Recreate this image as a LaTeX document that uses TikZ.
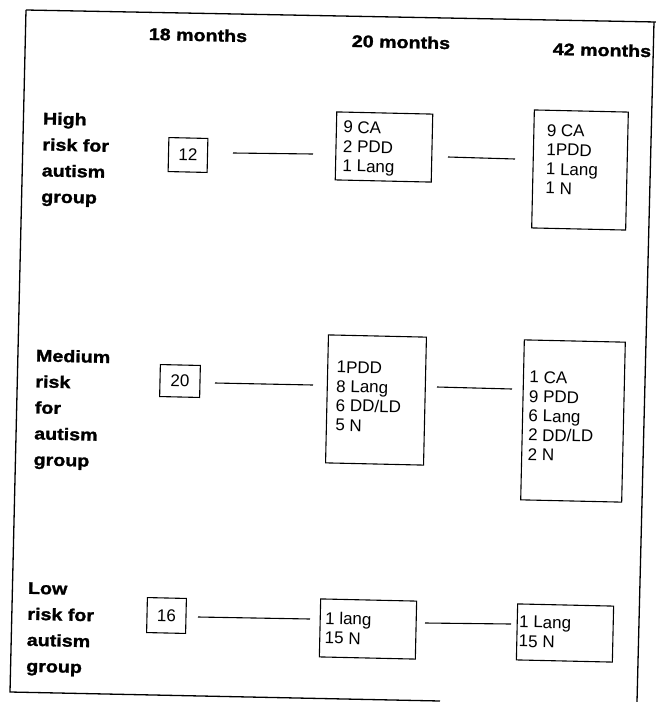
\documentclass[tikz,border=0pt]{standalone}
\usepackage{fontspec}
\setmainfont{Liberation Sans}
\newfontfamily\lblfont{Liberation Sans}[FakeStretch=1.17, FakeBold=1.5]
\newfontfamily\boxfont{Liberation Sans}
\tikzset{
  hdr/.style={font=\lblfont\bfseries\fontsize{16.8}{20}\selectfont, inner sep=0pt, rotate=-1.3},
  grp/.style={font=\lblfont\bfseries\fontsize{16.8}{26}\selectfont, align=left, anchor=north west, inner sep=0pt, rotate=-1.3},
  cnt/.style={draw, line width=1.1pt, font=\boxfont\fontsize{17}{19}\selectfont, inner sep=0pt, minimum width=#1, rotate=-1.3},
  res/.style={draw, line width=1.1pt, font=\boxfont\fontsize{17}{19.3}\selectfont, inner sep=0pt, rotate=-1.3},
  conn/.style={line width=1.1pt},
  frame/.style={line width=1.3pt}
}
\begin{document}
\begin{tikzpicture}[x=1pt,y=-1pt]
\useasboundingbox (0,0) rectangle (656,702);
% frame
\draw[frame] (26,10) -- (656,22);
\draw[frame] (26,10) -- (10,692) -- (440,701);
\draw[frame] (654,22) -- (637,702);
% headers
\node[hdr] (h18) at (198,35) {18 months};
\node[hdr] (h20) at (401,42) {20 months};
\node[hdr] (h42) at (602,50) {42 months};
% group labels
\node[grp] (gh) at (43,112) {High\\risk for\\autism\\group};
\node[grp] (gm) at (36,349) {Medium\\risk\\for\\autism\\group};
\node[grp] (gl) at (28,582) {Low\\risk for\\autism\\group};
% 18 months
\node[cnt=39pt, minimum height=34pt] (b12) at (188,155) {12};
\node[cnt=40pt, minimum height=32pt] (b20) at (180,381) {20};
\node[cnt=39pt, minimum height=35pt] (b16) at (166.5,615.5) {16};
% 20 months
\node[res] (hi20) at (384,147) {\parbox[c][68pt][t]{96pt}{\vspace*{9pt}\leftskip=7pt 9 CA\\2 PDD\\1 Lang}};
\node[res] (mid20) at (376,400) {\parbox[c][128pt][t]{98pt}{\vspace*{26pt}\leftskip=9pt 1PDD\\8 Lang\\6 DD/LD\\5 N}};
\node[res] (lo20) at (368,629) {\parbox[c][58pt][t]{96pt}{\vspace*{13pt}\leftskip=5pt 1 lang\\15 N}};
% 42 months
\node[res] (hi42) at (580,170) {\parbox[c][118pt][t]{94pt}{\vspace*{14pt}\leftskip=13pt 9 CA\\1PDD\\1 Lang\\1 N}};
\node[res] (mid42) at (573,421) {\parbox[c][160pt][t]{101pt}{\vspace*{31pt}\leftskip=6pt 1 CA\\9 PDD\\6 Lang\\2 DD/LD\\2 N}};
\node[res] (lo42) at (565,633) {\parbox[c][56pt][t]{96pt}{\vspace*{12pt}\leftskip=2pt 1 Lang\\15 N}};
% connectors
\coordinate (c1a) at (233,153); \coordinate (c1b) at (313,154);
\coordinate (c2a) at (448,157); \coordinate (c2b) at (515,159);
\coordinate (c3a) at (215,383); \coordinate (c3b) at (313,385);
\coordinate (c4a) at (437,387); \coordinate (c4b) at (512,389);
\coordinate (c5a) at (198,617); \coordinate (c5b) at (310,619);
\coordinate (c6a) at (425,623); \coordinate (c6b) at (511,624);
\draw[conn] (c1a) -- (c1b);
\draw[conn] (c2a) -- (c2b);
\draw[conn] (c3a) -- (c3b);
\draw[conn] (c4a) -- (c4b);
\draw[conn] (c5a) -- (c5b);
\draw[conn] (c6a) -- (c6b);
\end{tikzpicture}
\end{document}
